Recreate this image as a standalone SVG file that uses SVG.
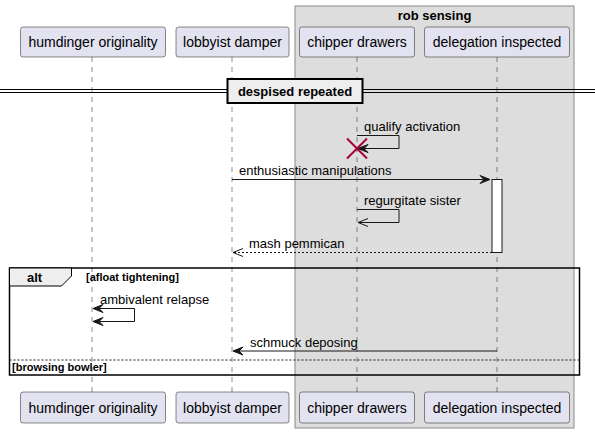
<svg xmlns="http://www.w3.org/2000/svg" width="595" height="433" viewBox="0 0 595 433">
<style>
text{font-family:"Liberation Sans",Arial,sans-serif;fill:#000}
.p{fill:#E2E2F0;stroke:#181818;stroke-width:0.5}
.pt{font-size:14px;text-anchor:middle}
.m{font-size:13px}
.b{font-weight:bold}
.life{stroke:#181818;stroke-width:0.5;stroke-dasharray:5,5;fill:none}
.ln{stroke:#181818;stroke-width:1;fill:none}
.dash{stroke:#181818;stroke-width:1;stroke-dasharray:2,2;fill:none}
.ah{fill:#181818;stroke:#181818;stroke-width:1}
</style>
<rect width="595" height="433" fill="#fff"/>
<g id="box-rob-sensing">
<rect x="295" y="6" width="279" height="422" fill="#DDDDDD" stroke="#8a8a8a" stroke-width="1"/>
<text x="434.5" y="20" class="b" font-size="13" text-anchor="middle">rob sensing</text>
</g>
<g id="lifelines">
<line class="life" x1="92" y1="57" x2="92" y2="392"/>
<line class="life" x1="232" y1="57" x2="232" y2="392"/>
<line class="life" x1="357" y1="57" x2="357" y2="392"/>
<line class="life" x1="497" y1="57" x2="497" y2="392"/>
</g>
<g id="humdinger-originality">
<rect class="p" x="20.5" y="27" width="145" height="30" rx="2.5"/>
<text class="pt" x="93" y="47">humdinger originality</text>
<rect class="p" x="20.5" y="392" width="145" height="31" rx="2.5"/>
<text class="pt" x="93" y="413">humdinger originality</text>
</g>
<g id="lobbyist-damper">
<rect class="p" x="176" y="27" width="113" height="30" rx="2.5"/>
<text class="pt" x="232.5" y="47">lobbyist damper</text>
<rect class="p" x="176" y="392" width="113" height="31" rx="2.5"/>
<text class="pt" x="232.5" y="413">lobbyist damper</text>
</g>
<g id="chipper-drawers">
<rect class="p" x="299.5" y="27" width="115" height="30" rx="2.5"/>
<text class="pt" x="357" y="47">chipper drawers</text>
<rect class="p" x="299.5" y="392" width="115" height="31" rx="2.5"/>
<text class="pt" x="357" y="413">chipper drawers</text>
</g>
<g id="delegation-inspected">
<rect class="p" x="424.5" y="27" width="145" height="30" rx="2.5"/>
<text class="pt" x="497" y="47">delegation inspected</text>
<rect class="p" x="424.5" y="392" width="145" height="31" rx="2.5"/>
<text class="pt" x="497" y="413">delegation inspected</text>
</g>
<g id="divider">
<line x1="0" y1="89.5" x2="595" y2="89.5" stroke="#000" stroke-width="1"/>
<line x1="0" y1="92.5" x2="595" y2="92.5" stroke="#000" stroke-width="1"/>
<rect x="227.5" y="79" width="135" height="24" fill="#EEEEEE" stroke="#000" stroke-width="2"/>
<text x="295" y="96" class="b" font-size="13" text-anchor="middle">despised repeated</text>
</g>
<g id="activation">
<rect x="492" y="179.5" width="10" height="73" fill="#fff" stroke="#181818" stroke-width="1"/>
</g>
<g id="connectors">
<!-- qualify activation -->
<polyline class="ln" points="357,135.5 399,135.5 399,148.5 358,148.5"/>
<polygon class="ah" points="358,148.5 368,144.5 364,148.5 368,152.5"/>
<text class="m" x="364" y="131">qualify activation</text>
<g stroke="#A80036" stroke-width="2">
<line x1="347" y1="138.5" x2="367" y2="158.5"/>
<line x1="347" y1="158.5" x2="367" y2="138.5"/>
</g>
<!-- enthusiastic manipulations -->
<line class="ln" x1="232" y1="179.5" x2="489" y2="179.5"/>
<polygon class="ah" points="490,179.5 480,175.5 484,179.5 480,183.5"/>
<text class="m" x="239" y="175">enthusiastic manipulations</text>
<!-- regurgitate sister -->
<polyline class="ln" points="357,209.5 399,209.5 399,222.5 358,222.5"/>
<polyline class="ln" points="368,218.5 358,222.5 368,226.5"/>
<text class="m" x="364" y="205">regurgitate sister</text>
<!-- mash pemmican -->
<line class="dash" x1="492" y1="252.5" x2="234" y2="252.5"/>
<polyline class="ln" points="243,248.5 233,252.5 243,256.5"/>
<text class="m" x="249" y="248">mash pemmican</text>
<!-- ambivalent relapse -->
<polyline class="ln" points="93,308.5 134.5,308.5 134.5,321.5 93,321.5"/>
<polygon class="ah" points="93,308.5 103,304.5 99,308.5 103,312.5"/>
<polygon class="ah" points="93,321.5 103,317.5 99,321.5 103,325.5"/>
<text class="m" x="100" y="304">ambivalent relapse</text>
<!-- schmuck deposing -->
<line class="ln" x1="497" y1="351" x2="234" y2="351"/>
<polygon class="ah" points="233,351 243,347 239,351 243,355"/>
<text class="m" x="250" y="347">schmuck deposing</text>
</g>
<g id="alt-fragment">
<rect x="9.5" y="268" width="570" height="107" fill="none" stroke="#000" stroke-width="1.5"/>
<polygon points="9.5,268 71.5,268 71.5,276 61.5,286 9.5,286" fill="#EEEEEE" stroke="#000" stroke-width="1"/>
<text x="27" y="282" class="b" font-size="13">alt</text>
<text x="86" y="281" class="b" font-size="11">[afloat tightening]</text>
<line class="dash" x1="9.5" y1="360" x2="579.5" y2="360"/>
<text x="12" y="371" class="b" font-size="11">[browsing bowler]</text>
</g>
</svg>
